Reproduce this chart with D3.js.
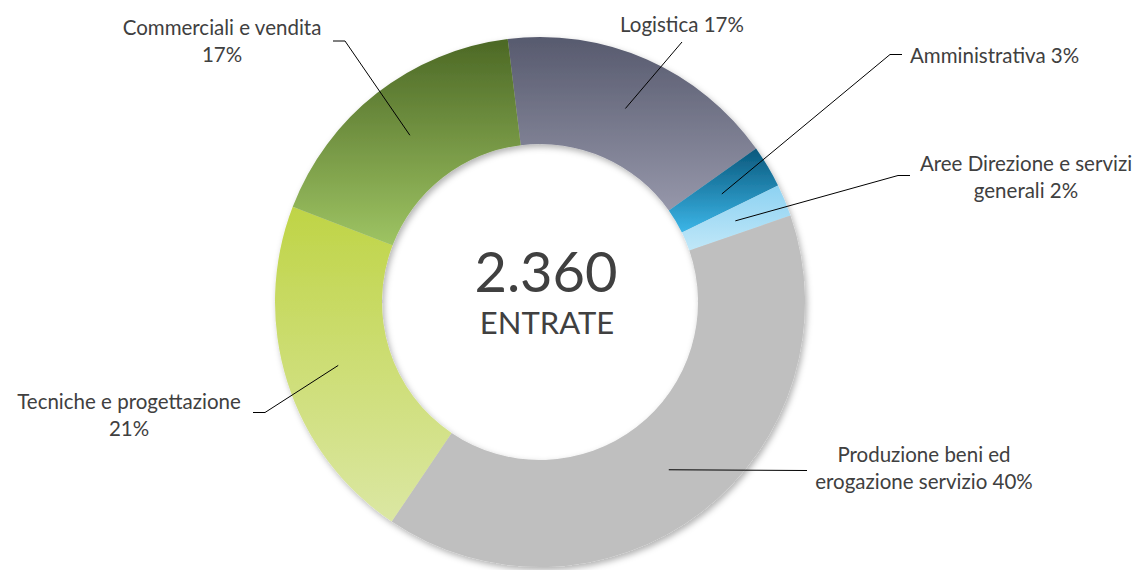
<!DOCTYPE html>
<html>
<head>
<meta charset="utf-8">
<script src="https://cdn.jsdelivr.net/npm/d3@7"></script>
<style>
  html, body { margin: 0; padding: 0; background: #ffffff; }
  svg text { font-family: Lato, "Open Sans", sans-serif; fill: #404040; }
</style>
</head>
<body>
<div id="chart"></div>
<script>
// Categories, in the order the slices run clockwise
const categories = [
    "Logistica",
    "Amministrativa",
    "Aree Direzione e servizi generali",
    "Produzione beni ed erogazione servizio",
    "Tecniche e progettazione",
    "Commerciali e vendita"
];

// Number of people per category (sums to the total in the middle)
const values = [404, 61, 46, 938, 505, 406];

// Label text split over lines (the percent is appended to the last line)
const labelLines = [
    ["Logistica"],
    ["Amministrativa"],
    ["Aree Direzione e servizi", "generali"],
    ["Produzione beni ed", "erogazione servizio"],
    ["Tecniche e progettazione", ""],
    ["Commerciali e vendita", ""]
];

// Gradient colours per slice: top -> bottom
const colorTop = ["#575a6e", "#0a587c", "#8dd2f2", "#bfbfbf", "#bfd446", "#4c6825"];
const colorBottom = ["#9697aa", "#3cb6e8", "#c0e7f8", "#bfbfbf", "#dbe7a3", "#9ec463"];

const centerLabel = "ENTRATE";

// Layout: where each label sits and where its leader line bends
const labelLayout = [
    { x: 682, y: 32, anchor: "middle", path: [[682, 42]] },
    { x: 910, y: 63, anchor: "start", path: [[890, 54.5], [902, 54.5]] },
    { x: 1026, y: 171, anchor: "middle", path: [[898, 175.5], [910, 175.5]] },
    { x: 924, y: 462, anchor: "middle", path: [[807, 470.5]] },
    { x: 129, y: 409, anchor: "middle", path: [[265, 412.5], [253, 412.5]] },
    { x: 222, y: 35, anchor: "middle", path: [[345, 41], [333, 41]] }
];

const width = 1136;
const height = 570;
const cx = 540, cy = 302;
const outerR = 265, innerR = 158;
const lineGap = 27;

const total = d3.sum(values);
const it = d3.formatLocale({ decimal: ",", thousands: ".", grouping: [3], currency: ["", "€"] });
const fmtTotal = it.format(",d");

const svg = d3.select("#chart").append("svg")
    .attr("width", width)
    .attr("height", height);

const defs = svg.append("defs");

// one vertical gradient per slice
colorTop.forEach((c, i) => {
    const g = defs.append("linearGradient")
        .attr("id", "grad" + i)
        .attr("x1", 0).attr("y1", 0)
        .attr("x2", 0).attr("y2", 1);
    g.append("stop").attr("offset", "0%").attr("stop-color", c);
    g.append("stop").attr("offset", "100%").attr("stop-color", colorBottom[i]);
});

const shadow = defs.append("filter")
    .attr("id", "shadow")
    .attr("x", "-10%").attr("y", "-10%")
    .attr("width", "120%").attr("height", "120%");
shadow.append("feDropShadow")
    .attr("dx", 2).attr("dy", 3)
    .attr("stdDeviation", 3)
    .attr("flood-color", "#000")
    .attr("flood-opacity", 0.3);

const deg = Math.PI / 180;
const pie = d3.pie()
    .sort(null)
    .value(d => d)
    .startAngle(-7 * deg)
    .endAngle(353 * deg);

const arcs = pie(values);

const arc = d3.arc()
    .innerRadius(innerR)
    .outerRadius(outerR);

const donut = svg.append("g")
    .attr("transform", `translate(${cx},${cy})`)
    .attr("filter", "url(#shadow)");

donut.selectAll("path")
    .data(arcs)
    .enter().append("path")
    .attr("d", arc)
    .attr("fill", (d, i) => `url(#grad${i})`);

// leader lines from the middle of each slice
const line = d3.line();
svg.append("g").selectAll("path")
    .data(arcs)
    .enter().append("path")
    .attr("d", (d, i) => {
        const c = arc.centroid(d);
        const pts = [[c[0] + cx, c[1] + cy]].concat(labelLayout[i].path);
        return line(pts);
    })
    .attr("fill", "none")
    .attr("stroke", "#000")
    .attr("stroke-width", 1);

// labels
const labels = svg.append("g").selectAll("text")
    .data(arcs)
    .enter().append("text")
    .attr("x", (d, i) => labelLayout[i].x)
    .attr("y", (d, i) => labelLayout[i].y)
    .attr("text-anchor", (d, i) => labelLayout[i].anchor)
    .style("font-size", "20.5px");

labels.each(function(d, i) {
    const pct = Math.round(d.value / total * 100) + "%";
    const lines = labelLines[i].slice();
    const last = lines.length - 1;
    lines[last] = lines[last] ? lines[last] + " " + pct : pct;
    lines.forEach((t, j) => {
        d3.select(this).append("tspan")
            .attr("x", labelLayout[i].x)
            .attr("dy", j ? lineGap : 0)
            .text(t);
    });
});

// total in the hole
svg.append("text")
    .attr("x", cx + 6)
    .attr("y", 292)
    .attr("text-anchor", "middle")
    .style("font-size", "56px")
    .text(fmtTotal(total));

svg.append("text")
    .attr("x", cx + 7)
    .attr("y", 334)
    .attr("text-anchor", "middle")
    .style("font-size", "31px")
    .text(centerLabel);
</script>
</body>
</html>
